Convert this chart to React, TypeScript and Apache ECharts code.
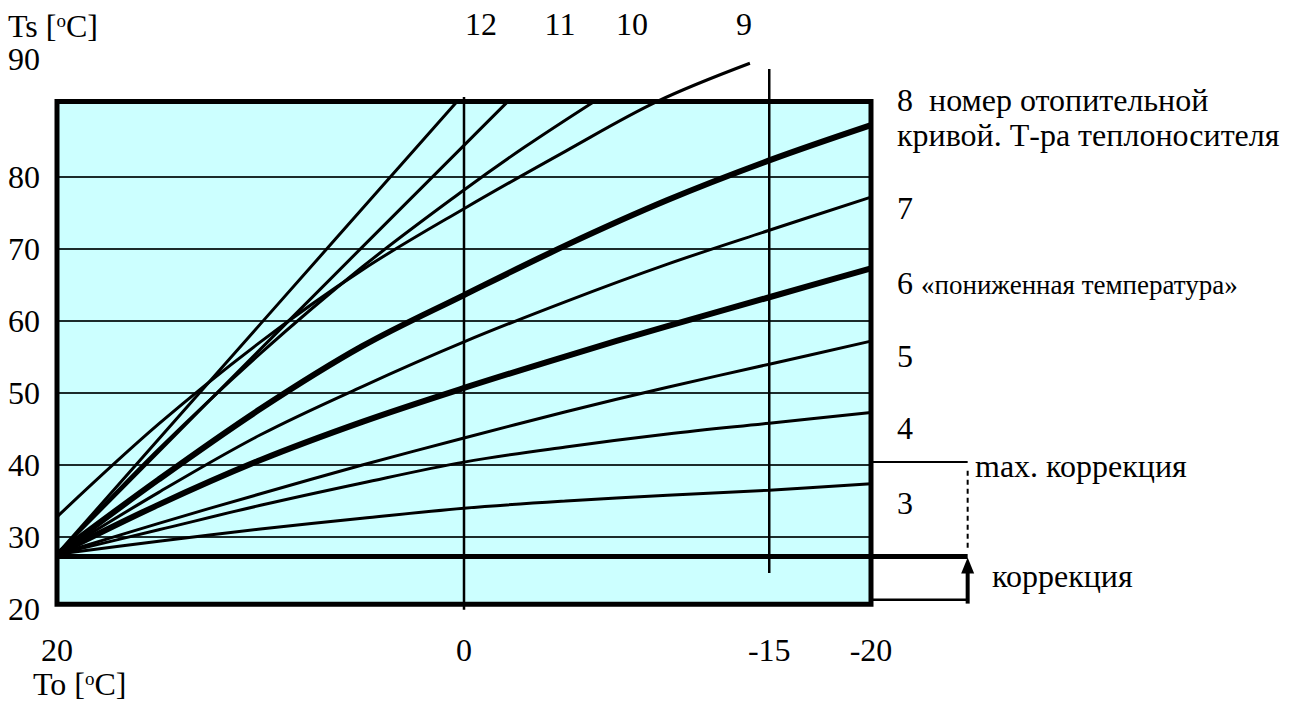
import React, { useEffect, useRef } from 'react';
import * as echarts from 'echarts';

const FONT = 'Liberation Serif, Times New Roman, serif';
const FS = 32;

// Axis ticks
const outdoorLabels = [20, 0, -15, -20];
const supplyLabels = [20, 30, 40, 50, 60, 70, 80, 90];

// Heating curves (outdoor temperature To -> supply temperature Ts)
const xsCommon = [20, 15, 10, 5, 0, -5, -10, -15, -20];
const curve3 = [27.6, 29.4, 31.1, 32.6, 34.0, 35.0, 35.8, 36.5, 37.4];
const curve4 = [27.6, 31.0, 34.4, 37.5, 40.4, 42.5, 44.3, 45.8, 47.3];
const curve5 = [27.6, 31.9, 36.0, 40.0, 43.75, 47.4, 50.8, 54.0, 57.2];
const curve6 = [27.6, 34.5, 40.7, 46.0, 50.7, 55.1, 59.3, 63.3, 67.3];
const curve7 = [27.6, 36.2, 44.2, 50.9, 57.1, 62.7, 67.9, 72.6, 77.2];
const curve8 = [27.6, 38.0, 47.8, 56.5, 63.6, 70.5, 76.8, 82.3, 87.2];
const xs9 = [20, 15, 10, 5, 0, -5, -9.5, -14.05];
const curve9 = [32.8, 45.7, 57.1, 67.1, 75.6, 83.6, 90.5, 95.8];
const xs10 = [20, 15, 10, 5, 0, -3, -6.4];
const curve10 = [27.6, 42.2, 55.5, 67.5, 78.2, 84.2, 90.5];
const xs11 = [20, 10, 0, -2.16];
const curve11 = [27.6, 56.1, 84.4, 90.5];
const xs12 = [20, 10, 0.34];
const curve12 = [27.6, 59.6, 90.5];

// Reference lines and box (data coordinates)
const markOutdoor = [0, -15];
const markOutdoorSpan = [[19.9, 91.1], [25.0, 95.0]];
const boxX = [20, -20];
const boxY = [20.65, 90.5];
const correctionLevel = 27.3;
const maxCorrection = 40.4;
const correctionBase = 21.3;
const annotX = -24.75;

export default function App() {
  const ref = useRef<HTMLDivElement>(null);
  useEffect(() => {
    const chart = echarts.init(ref.current!, null, { renderer: 'svg' });
    const line = (data: number[][], width: number, extra: any = {}) => ({
      type: 'line',
      data,
      showSymbol: false,
      clip: false,
      silent: true,
      z: 5,
      lineStyle: { color: '#000', width },
      ...extra,
    });
    const curve = (xs: number[], ys: number[], width: number) =>
      line(xs.map((x, i) => [x, ys[i]]), width, { smooth: 0.35 });

    const series: any[] = [
      curve(xsCommon, curve3, 3),
      curve(xsCommon, curve4, 3),
      curve(xsCommon, curve5, 3),
      curve(xsCommon, curve6, 6),
      curve(xsCommon, curve7, 3),
      curve(xsCommon, curve8, 6),
      curve(xs9, curve9, 3),
      curve(xs10, curve10, 3),
      curve(xs11, curve11, 3),
      curve(xs12, curve12, 3),
      ...markOutdoor.map((x, i) =>
        line([[x, markOutdoorSpan[i][0]], [x, markOutdoorSpan[i][1]]], 2.5)
      ),
    ];

    const baseOption: any = {
      animation: false,
      backgroundColor: '#ffffff',
      grid: { left: 57, right: 422, top: 105, bottom: 95, containLabel: false },
      xAxis: {
        type: 'value',
        min: -20,
        max: 20,
        interval: 5,
        inverse: true,
        axisLine: { show: false },
        axisTick: { show: false },
        splitLine: { show: false },
        axisLabel: {
          interval: 0,
          formatter: (v: number) => (outdoorLabels.includes(v) ? String(v) : ''),
          fontSize: FS,
          fontFamily: FONT,
          color: '#000',
          margin: 25,
        },
      },
      yAxis: {
        type: 'value',
        min: 20,
        max: 90,
        interval: 10,
        axisLine: { show: false },
        axisTick: { show: false },
        splitLine: {
          show: true,
          showMinLine: false,
          showMaxLine: false,
          lineStyle: { color: '#1d2b2b', width: 2 },
        },
        axisLabel: {
          interval: 0,
          formatter: (v: number) => (v === 90 ? '' : String(v)),
          fontSize: FS,
          fontFamily: FONT,
          color: '#000',
          margin: 17,
        },
      },
      series,
    };
    chart.setOption(baseOption);

    const P = (x: number, y: number) => chart.convertToPixel({ gridIndex: 0 }, [x, y]) as number[];

    const txt = (text: string, x: number, y: number, extra: any = {}) => ({
      type: 'text',
      x,
      y,
      silent: true,
      z: 60,
      style: {
        text,
        fontSize: FS,
        fontFamily: FONT,
        fill: '#000',
        align: 'left',
        verticalAlign: 'middle',
        ...extra,
      },
    });
    const seg = (a: number[], b: number[], width: number, extra: any = {}) => ({
      type: 'line',
      silent: true,
      z: 40,
      shape: { x1: a[0], y1: a[1], x2: b[0], y2: b[1] },
      style: { stroke: '#000', lineWidth: width, ...extra },
    });
    const sup = { o: { fontSize: 19, fontFamily: FONT, verticalAlign: 'top', lineHeight: 30 } };

    const tl = P(boxX[0], boxY[1]);
    const br = P(boxX[1], boxY[0]);
    const tip = P(annotX, correctionLevel);
    const shaftBottom = P(annotX, 20.75);

    const graphic: any[] = [
      { type: 'rect', silent: true, z: -10, shape: { x: tl[0], y: tl[1], width: br[0] - tl[0], height: br[1] - tl[1] }, style: { fill: '#CCFFFF' } },
      { type: 'rect', silent: true, z: 50, shape: { x: tl[0], y: tl[1], width: br[0] - tl[0], height: br[1] - tl[1] }, style: { fill: 'none', stroke: '#000', lineWidth: 5 } },
      seg(P(20, correctionLevel), P(annotX, correctionLevel), 5),
      seg(P(-20, maxCorrection), P(annotX, maxCorrection), 2),
      seg(P(-20, correctionBase), P(annotX, correctionBase), 2.5),
      seg(P(annotX, maxCorrection - 1.2), P(annotX, correctionLevel + 1.2), 2, { lineDash: [5, 4] }),
      seg(shaftBottom, [tip[0], tip[1] + 12], 4),
      {
        type: 'polygon',
        silent: true,
        z: 41,
        shape: { points: [[tip[0], tip[1] + 1], [tip[0] - 6.5, tip[1] + 17], [tip[0] + 6.5, tip[1] + 17]] },
        style: { fill: '#000' },
      },
      txt('Ts [{o|o}C]', 8, 26, { rich: sup, lineHeight: 30 }),
      txt(String(supplyLabels[supplyLabels.length - 1]), 8, 59),
      txt('12', 481, 24, { align: 'center' }),
      txt('11', 560, 24, { align: 'center' }),
      txt('10', 632, 24, { align: 'center' }),
      txt('9', 744, 24, { align: 'center' }),
      txt('To [{o|o}C]', 33, 684, { rich: sup, lineHeight: 30 }),
      txt('8  номер отопительной', 897, 100),
      txt('кривой. Т-ра теплоносителя', 897, 135),
      txt('7', 897, 208),
      txt('6', 897, 283),
      txt('«пониженная температура»', 921, 285, { fontSize: 27 }),
      txt('5', 897, 356),
      txt('4', 897, 428),
      txt('max. коррекция', 975, 466),
      txt('3', 897, 503),
      txt('коррекция', 992, 576),
    ];
    chart.setOption({ graphic });
    return () => chart.dispose();
  }, []);
  return (
    <div
      ref={ref}
      style={{ position: 'fixed', left: 0, top: 0, width: 1293, height: 704, background: '#fff' }}
    />
  );
}
